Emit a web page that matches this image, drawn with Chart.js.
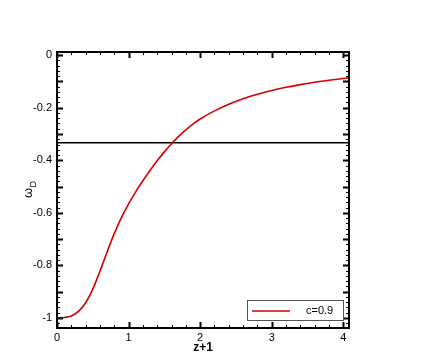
<!DOCTYPE html>
<html><head><meta charset="utf-8">
<script src="https://cdn.jsdelivr.net/npm/chart.js@4.4.1/dist/chart.umd.min.js"></script>
<style>html,body{margin:0;padding:0;background:#fff}#wrap{width:436px;height:357px}</style>
</head><body><div id="wrap"><canvas id="c" width="436" height="357"></canvas></div>
<script>
const zPlus1 = [0,0.1,0.2,0.3,0.4,0.5,0.6,0.7,0.8,0.9,1.0,1.1,1.2,1.3,1.4,1.5,1.6,1.7,1.8,1.9,2.0,2.2,2.4,2.6,2.8,3.0,3.2,3.4,3.6,3.8,4.0,4.08];
const omegaD = [-1.0,-0.998,-0.992,-0.975,-0.942,-0.890,-0.822,-0.749,-0.679,-0.618,-0.566,-0.520,-0.478,-0.439,-0.402,-0.368,-0.337,-0.309,-0.284,-0.262,-0.243,-0.212,-0.1865,-0.1655,-0.1485,-0.1345,-0.1224,-0.1121,-0.1032,-0.0954,-0.0886,-0.0861];
const refLineX = [0, 4.08];
const refLineY = [-1/3, -1/3];
const seriesLabel = 'c=0.9';
const xTickLabels = [0,1,2,3,4];
const yTickLabels = [0,-0.2,-0.4,-0.6,-0.8,-1];
const xMajorTicks = [0,1,2,3,4];
const xMinorStep = 0.2;
const yMajorStep = 0.1;
const yMinorStep = 0.02;

const FONT = '"Liberation Sans", Arial, sans-serif';

const ticksPlugin = {
  id: 'inticks',
  afterDraw(chart) {
    const {ctx, chartArea: a, scales: {x, y}} = chart;
    ctx.save();
    ctx.strokeStyle = '#000';
    for (let i = 0; i * xMinorStep <= x.max + 1e-9; i++) {
      const v = +(i * xMinorStep).toFixed(4);
      const major = xMajorTicks.includes(v);
      const px = Math.round(x.getPixelForValue(v)) + 0.5;
      const len = major ? 6 : 3;
      ctx.lineWidth = major ? 2 : 1;
      ctx.beginPath();
      ctx.moveTo(px, a.bottom); ctx.lineTo(px, a.bottom - len);
      ctx.moveTo(px, a.top); ctx.lineTo(px, a.top + len);
      ctx.stroke();
    }
    for (let i = 0; -i * yMinorStep >= y.min - 1e-9; i++) {
      const v = -i * yMinorStep;
      const major = Math.abs(v / yMajorStep - Math.round(v / yMajorStep)) < 1e-6;
      const py = Math.round(y.getPixelForValue(v)) + 0.5;
      const len = major ? 6 : 3;
      ctx.lineWidth = major ? 2 : 1;
      ctx.beginPath();
      ctx.moveTo(a.left, py); ctx.lineTo(a.left + len, py);
      ctx.moveTo(a.right, py); ctx.lineTo(a.right - len, py);
      ctx.stroke();
    }
    ctx.lineWidth = 2;
    ctx.strokeRect(a.left, a.top, a.right - a.left, a.bottom - a.top);
    // y title omega_D
    ctx.fillStyle = '#000';
    ctx.translate(31, 190);
    ctx.rotate(-Math.PI / 2);
    ctx.font = '13px ' + FONT;
    ctx.textBaseline = 'alphabetic';
    ctx.textAlign = 'left';
    const w = ctx.measureText('ω').width;
    ctx.fillText('ω', -w / 2 - 3, 1);
    ctx.font = '9px ' + FONT;
    ctx.fillText('D', w / 2 - 2.5, 4.5);
    ctx.restore();
    // legend
    const ds = chart.data.datasets[0];
    ctx.save();
    const lx = 247.5, ly = 300.5, lw = 96, lh = 20;
    ctx.fillStyle = '#fff';
    ctx.fillRect(lx, ly, lw, lh);
    ctx.strokeStyle = '#555';
    ctx.lineWidth = 1;
    ctx.strokeRect(lx, ly, lw, lh);
    ctx.strokeStyle = ds.borderColor;
    ctx.lineWidth = 1.6;
    ctx.beginPath(); ctx.moveTo(252, 311); ctx.lineTo(290, 311); ctx.stroke();
    ctx.fillStyle = '#000';
    ctx.font = '11px ' + FONT;
    ctx.textBaseline = 'middle';
    ctx.fillText(ds.label, 306, 311);
    ctx.restore();
  }
};

new Chart(document.getElementById('c'), {
  type: 'line',
  data: {
    datasets: [
      { label: seriesLabel, data: zPlus1.map((v, i) => ({x: v, y: omegaD[i]})), borderColor: '#d40000', borderWidth: 1.6, pointRadius: 0, cubicInterpolationMode: 'monotone', fill: false },
      { label: 'ref', data: refLineX.map((v, i) => ({x: v, y: refLineY[i]})), borderColor: '#000', borderWidth: 1.5, pointRadius: 0, fill: false }
    ]
  },
  options: {
    responsive: false, animation: false, devicePixelRatio: 1,
    layout: { padding: { left: 0, right: 87, top: 52, bottom: 0 } },
    plugins: { legend: { display: false }, tooltip: { enabled: false } },
    scales: {
      x: {
        type: 'linear', min: 0, max: 4.08,
        afterFit(s) { s.height = 29; },
        afterBuildTicks(s) { s.ticks = xTickLabels.map(v => ({value: v})); },
        grid: { display: false, drawTicks: false },
        border: { display: false },
        ticks: { padding: 3, color: '#000', font: { family: FONT, size: 11 }, maxRotation: 0, callback: v => String(v) },
        title: { display: true, text: 'z+1', color: '#000', font: { family: FONT, size: 12, weight: 'bold' }, padding: { top: 0, bottom: 2 } }
      },
      y: {
        type: 'linear', min: -1.038, max: 0.012,
        afterFit(s) { s.width = 57; },
        afterBuildTicks(s) { s.ticks = yTickLabels.map(v => ({value: v})); },
        grid: { display: false, drawTicks: false },
        border: { display: false },
        ticks: { padding: 5, color: '#000', font: { family: FONT, size: 11 }, callback: v => String(v) }
      }
    }
  },
  plugins: [ticksPlugin]
});
</script></body></html>
